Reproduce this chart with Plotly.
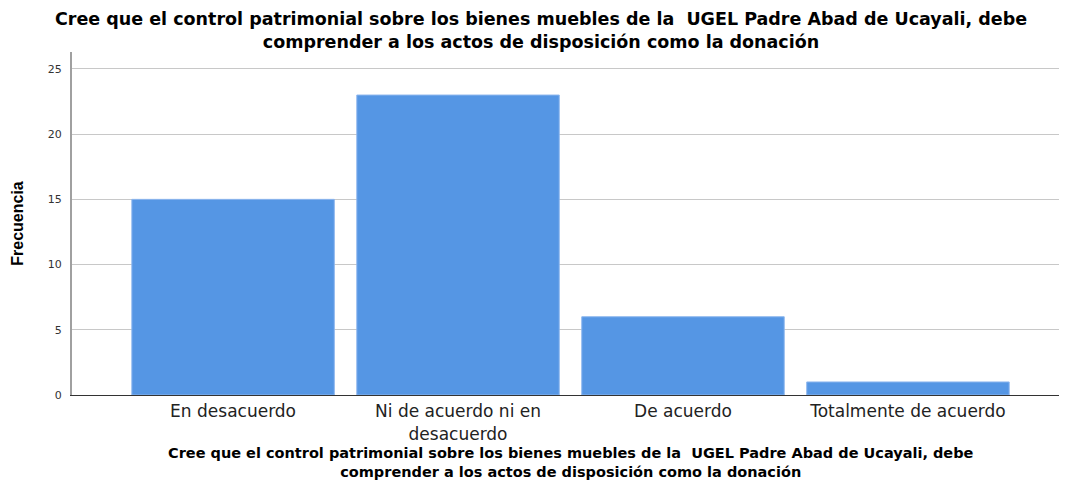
import plotly.graph_objects as go

categories = ["En desacuerdo", "Ni de acuerdo ni en<br>desacuerdo", "De acuerdo", "Totalmente de acuerdo"]
frecuencia = [15, 23, 6, 1]
y_ticks = [0, 5, 10, 15, 20, 25]

title_line1 = "Cree que el control patrimonial sobre los bienes muebles de la  UGEL Padre Abad de Ucayali, debe"
title_line2 = "comprender a los actos de disposición como la donación"

wide = "DejaVu Sans, Verdana, sans-serif"
# page is rendered with an 8px body margin; compensate
OFF = 8
W, H = 1067 - OFF, 481 - OFF
L, T, B = 72 - OFF, 52 - OFF, H - (395 - OFF)
PH = H - T - B
PW = W - L

fig = go.Figure()
fig.add_trace(go.Bar(
    x=list(range(len(categories))),
    y=frecuencia,
    width=0.9,
    marker=dict(color="#5596E4", line=dict(color="#8DB6EE", width=1)),
))

fig.update_layout(
    width=W, height=H,
    paper_bgcolor="white", plot_bgcolor="white",
    margin=dict(l=L, r=0, t=T, b=B, autoexpand=False),
    showlegend=False,
)

# top title
fig.add_annotation(text="<b>" + title_line1 + "<br>" + title_line2 + "</b>",
                   xref="paper", yref="paper",
                   x=(541 - 72) / PW, y=1 + (52 - 31) / PH,
                   xanchor="center", yanchor="middle", showarrow=False,
                   font=dict(family=wide, size=17.5, color="black"))
# bottom axis title
fig.add_annotation(text="<b>" + title_line1 + "<br>" + title_line2 + "</b>",
                   xref="paper", yref="paper",
                   x=(571 - 72) / PW, y=-(462 - 395) / PH,
                   xanchor="center", yanchor="middle", showarrow=False,
                   font=dict(family=wide, size=14.5, color="black"))

fig.update_xaxes(
    range=[-0.716, 3.707], automargin=False,
    tickmode="array", tickvals=list(range(len(categories))), ticktext=categories,
    showgrid=False, zeroline=False,
    showline=True, linecolor="#333333", linewidth=1,
    ticks="", ticklabelstandoff=1,
    tickfont=dict(family=wide, size=17, color="#222222"),
)

fig.update_yaxes(
    range=[0, 26.3], automargin=False,
    tickmode="array", tickvals=y_ticks,
    showgrid=True, gridcolor="#C8C8C8", gridwidth=1,
    zeroline=False,
    showline=True, linecolor="#A0A0A0", linewidth=2,
    ticks="", ticklabelstandoff=6,
    tickfont=dict(family=wide, size=11, color="#333333"),
    title=dict(text="<b>Frecuencia</b>", standoff=20,
               font=dict(family="Liberation Sans Narrow, Liberation Sans, Arial, sans-serif", size=16, color="black")),
)

fig.write_html("out.html")
